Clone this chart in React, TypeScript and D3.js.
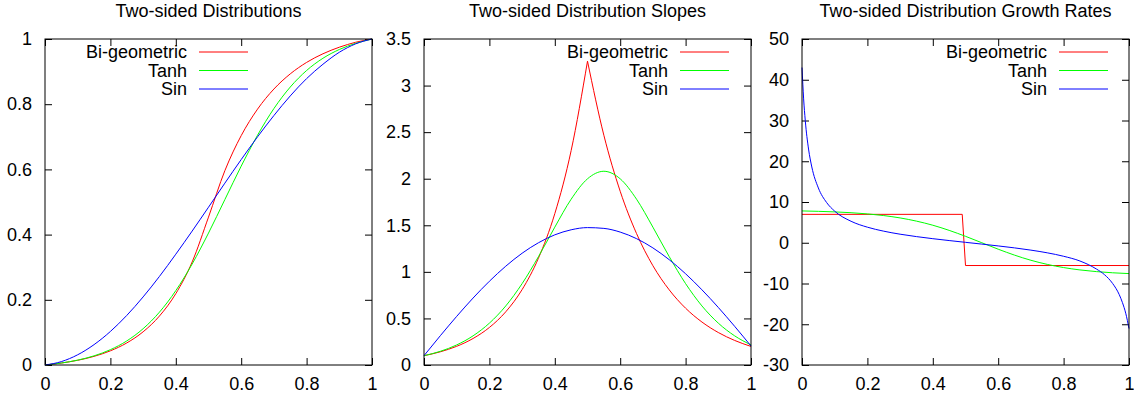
import React, { useEffect, useRef } from 'react';
import * as d3 from 'd3';

// sample positions shared by the distribution and slope curves
const xs = [0, 0.05, 0.1, 0.15, 0.2, 0.25, 0.3, 0.35, 0.4, 0.45, 0.5, 0.55, 0.6, 0.65, 0.7, 0.75, 0.8, 0.85, 0.9, 0.95, 1];

const biGeoDist = [0, 0.006, 0.0145, 0.0265, 0.0435, 0.0676, 0.1018, 0.1502, 0.2188, 0.316, 0.4537, 0.596, 0.7036, 0.7849, 0.8465, 0.893, 0.9282, 0.9547, 0.9748, 0.99, 1];
const tanhDist = [0, 0.0061, 0.015, 0.0281, 0.047, 0.0738, 0.1113, 0.1621, 0.2281, 0.3098, 0.4047, 0.5074, 0.61, 0.7049, 0.7866, 0.8526, 0.9034, 0.9409, 0.9678, 0.9866, 1];
const sinDist = [0, 0.0104, 0.0314, 0.0625, 0.1029, 0.152, 0.2088, 0.2717, 0.3399, 0.4108, 0.484, 0.5578, 0.6302, 0.6999, 0.7652, 0.8254, 0.8785, 0.9225, 0.9593, 0.9851, 1];

const biGeoSlope = [0.1, 0.1417, 0.2008, 0.2845, 0.4031, 0.5712, 0.8093, 1.147, 1.625, 2.302, 3.262, 2.467, 1.865, 1.411, 1.066, 0.8064, 0.6097, 0.4613, 0.3487, 0.2636, 0.1993];
const tanhSlope = [0.0997, 0.147, 0.2155, 0.313, 0.4495, 0.634, 0.8736, 1.163, 1.48, 1.78, 1.999, 2.08, 1.999, 1.78, 1.48, 1.163, 0.8736, 0.634, 0.4495, 0.313, 0.2155];
const sinSlope = [0.1004, 0.3148, 0.5222, 0.7187, 0.8992, 1.0608, 1.1998, 1.3125, 1.3975, 1.4516, 1.4751, 1.4668, 1.427, 1.3566, 1.2573, 1.1303, 0.9795, 0.8072, 0.618, 0.4152, 0.2038];

const biGeoGrowthX = [0, 0.49, 0.5, 1];
const biGeoGrowth = [6.97, 6.97, -5.59, -5.59];
const tanhGrowth = [7.81, 7.71, 7.57, 7.37, 7.08, 6.67, 6.09, 5.31, 4.3, 3.04, 1.58, 0, -1.58, -3.04, -4.3, -5.31, -6.09, -6.67, -7.08, -7.37, -7.57];
const sinGrowthX = [0, 0.005, 0.01, 0.02, 0.03, 0.05, 0.075, 0.1, 0.15, 0.2, 0.25, 0.3, 0.35, 0.4, 0.45, 0.5, 0.55, 0.6, 0.65, 0.7, 0.75, 0.8, 0.85, 0.9, 0.925, 0.95, 0.97, 0.98, 0.99, 1];
const sinGrowth = [43.0, 35.3, 30.0, 23.0, 18.6, 13.45, 9.9, 7.75, 5.27, 3.82, 2.84, 2.1, 1.51, 1.0, 0.54, 0.1, -0.33, -0.78, -1.26, -1.81, -2.47, -3.32, -4.48, -6.43, -7.83, -10.0, -12.7, -14.7, -17.3, -21.05];

const seriesNames = ['Bi-geometric', 'Tanh', 'Sin'];
const seriesColors = ['#ff0000', '#00ff00', '#0000ff'];

const titles = ['Two-sided Distributions', 'Two-sided Distribution Slopes', 'Two-sided Distribution Growth Rates'];
const xTicks = [0, 0.2, 0.4, 0.6, 0.8, 1];
const yTicks = [
    [0, 0.2, 0.4, 0.6, 0.8, 1],
    [0, 0.5, 1, 1.5, 2, 2.5, 3, 3.5],
    [-30, -20, -10, 0, 10, 20, 30, 40, 50],
];

const zip = (x, y) => x.map((v, i) => [v, y[i]]);

const panels = [
    {
        series: [zip(xs, biGeoDist), zip(xs, tanhDist), zip(xs, sinDist)],
        legendRight: 142,
    },
    {
        series: [zip(xs, biGeoSlope), zip(xs, tanhSlope), zip(xs, sinSlope)],
        legendRight: 244,
    },
    {
        series: [zip(biGeoGrowthX, biGeoGrowth), zip(xs, tanhGrowth), zip(sinGrowthX, sinGrowth)],
        legendRight: 245,
    },
];

const W = 1134;
const H = 398;
const lefts = [45, 424, 802];
const top = 39;
const plotW = 327;
const plotH = 326;
const font = '"Liberation Sans", Arial, sans-serif';
const plain = d => String(d); // plain hyphen for negatives, like gnuplot

export default function App() {
    const svgRef = useRef();

    useEffect(() => {
        const svg = d3.select(svgRef.current);
        svg.selectAll('*').remove();

        panels.forEach((panel, p) => {
            const ys = yTicks[p];
            const x = d3.scaleLinear().domain([0, 1]).range([0, plotW]);
            const y = d3.scaleLinear().domain([ys[0], ys[ys.length - 1]]).range([plotH, 0]);

            const g = svg.append('g').attr('transform', `translate(${lefts[p]},${top})`);

            g.append('text')
                .attr('x', plotW / 2)
                .attr('y', 17 - top)
                .attr('text-anchor', 'middle')
                .style('font-family', font)
                .style('font-size', '18px')
                .text(titles[p]);

            const styleAxis = (sel, labels) => {
                sel.select('.domain').remove();
                sel.selectAll('line').attr('stroke', '#000');
                sel.selectAll('text')
                    .style('font-family', font)
                    .style('font-size', '18px')
                    .attr('fill', '#000');
                if (!labels) sel.selectAll('text').remove();
            };

            g.append('g')
                .attr('transform', `translate(0,${plotH})`)
                .call(d3.axisBottom(x).tickValues(xTicks).tickFormat(plain).tickSizeInner(-7).tickSizeOuter(0).tickPadding(12))
                .call(s => styleAxis(s, true));
            g.append('g')
                .call(d3.axisTop(x).tickValues(xTicks).tickSizeInner(-7).tickSizeOuter(0))
                .call(s => styleAxis(s, false));
            g.append('g')
                .call(d3.axisLeft(y).tickValues(ys).tickFormat(plain).tickSizeInner(-7).tickSizeOuter(0).tickPadding(13))
                .call(s => styleAxis(s, true));
            g.append('g')
                .attr('transform', `translate(${plotW},0)`)
                .call(d3.axisRight(y).tickValues(ys).tickSizeInner(-7).tickSizeOuter(0))
                .call(s => styleAxis(s, false));

            const line = d3.line().x(d => x(d[0])).y(d => y(d[1]));

            panel.series.forEach((pts, i) => {
                let pieces = [pts];
                let curve = d3.curveMonotoneX;
                if (p === 1 && i === 0) {
                    // split the cusp so the peak stays sharp
                    const k = d3.maxIndex(pts, d => d[1]);
                    pieces = [pts.slice(0, k + 1), pts.slice(k)];
                }
                if (p === 2 && i === 0) curve = d3.curveLinear;
                pieces.forEach(piece => {
                    g.append('path')
                        .datum(piece)
                        .attr('fill', 'none')
                        .attr('stroke', seriesColors[i])
                        .attr('stroke-width', 1)
                        .attr('d', line.curve(curve)(piece));
                });
            });

            const legend = g.append('g');
            seriesNames.forEach((name, i) => {
                const ly = 13 + i * 18.5;
                legend.append('text')
                    .attr('x', panel.legendRight)
                    .attr('y', ly)
                    .attr('dy', '0.35em')
                    .attr('text-anchor', 'end')
                    .style('font-family', font)
                    .style('font-size', '18px')
                    .text(name);
                legend.append('line')
                    .attr('x1', panel.legendRight + 12)
                    .attr('x2', panel.legendRight + 61)
                    .attr('y1', ly)
                    .attr('y2', ly)
                    .attr('stroke', seriesColors[i])
                    .attr('stroke-width', 1);
            });

            g.append('rect')
                .attr('x', 0)
                .attr('y', 0)
                .attr('width', plotW)
                .attr('height', plotH)
                .attr('fill', 'none')
                .attr('stroke', '#000')
                .attr('stroke-width', 1);
        });
    }, []);

    return (
        <svg ref={svgRef} width={W} height={H} style={{ position: 'absolute', left: 0, top: 0, background: '#fff' }} />
    );
}
